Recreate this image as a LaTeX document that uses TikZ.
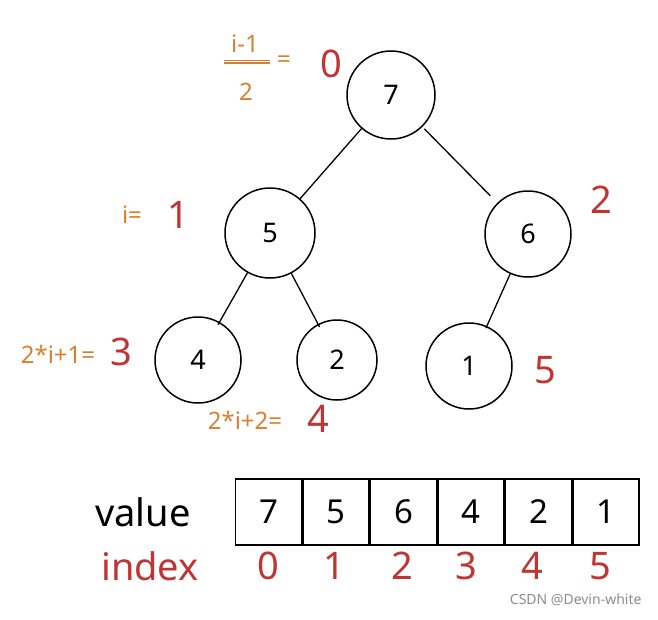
\documentclass[tikz,border=0pt]{standalone}
\usepackage{fontspec}
\setmainfont{Noto Sans}
\definecolor{sketchorange}{RGB}{217,128,48}
\definecolor{sketchred}{RGB}{192,52,52}
\begin{document}
\begin{tikzpicture}[x=1pt,y=-1pt,
  heapnode/.style={circle,draw,line width=1.5pt,inner sep=0pt,font=\fontsize{27}{29}\selectfont},
  cell/.style={draw,line width=1.5pt,minimum width=66pt,minimum height=66pt,inner sep=0pt,font=\fontsize{33}{35}\selectfont},
  edge/.style={line width=1.3pt,line cap=round},
  formula/.style={text=sketchorange,font=\fontsize{24}{26}\selectfont,inner sep=0pt},
  idx/.style={text=sketchred,font=\fontsize{38}{40}\selectfont,inner sep=0pt},
  rowlabel/.style={font=\fontsize{38}{40}\selectfont,inner sep=0pt}]
\useasboundingbox (0,0) rectangle (658,619);

% heap tree
\node[heapnode,minimum size=88pt] (n7) at (391,95) {7};
\node[heapnode,minimum size=90pt] (n5) at (270,233) {5};
\node[heapnode,minimum size=86pt] (n6) at (528,234) {6};
\node[heapnode,minimum size=86pt] (n4) at (198,360) {4};
\node[heapnode,minimum size=80pt] (n2) at (337,360) {2};
\node[heapnode,minimum size=86pt] (n1) at (469,366) {1};

\draw[edge] (n7) -- (n5);
\draw[edge,shorten <=3pt,shorten >=10pt] (n7) -- (n6);
\draw[edge,shorten >=-3pt] (n5) -- (n4);
\draw[edge,shorten >=-3pt] (n5) -- (n2);
\draw[edge,shorten >=-2pt] (n6) -- (n1);

% index formulas next to the tree
\node[formula] (fnum) at (245,44) {i-1};
\coordinate (barL) at (224,63);
\coordinate (barR) at (270,63);
\draw[sketchorange,line width=1.2pt] (barL) -- (barR);
\draw[sketchorange,line width=1pt] ([yshift=2.5pt]barL) -- ([yshift=2.5pt]barR);
\node[formula] (fden) at (246,92) {2};
\node[formula] (feq) at (284,62) {=};
\node[idx] (i0) at (331,64) {0};

\node[formula] (fi) at (132,215) {i=};
\node[idx] (i1) at (178,215) {1};
\node[idx] (i2) at (601,200) {2};

\node[formula] (fl) at (58,354) {2*i+1=};
\node[idx] (i3) at (121,352) {3};
\node[formula] (fr) at (245,420) {2*i+2=};
\node[idx] (i4) at (318,419) {4};
\node[idx] (i5) at (545,370) {5};

% array view
\node[rowlabel] (value) at (143,512) {value};
\node[cell] (c0) at (268.5,512) {7};
\node[cell] (c1) at (336,512) {5};
\node[cell] (c2) at (403.5,512) {6};
\node[cell] (c3) at (471,512) {4};
\node[cell] (c4) at (538.5,512) {2};
\node[cell] (c5) at (606,512) {1};

\node[rowlabel,text=sketchred] (index) at (150,566) {index};
\node[idx] (k0) at (268,566) {0};
\node[idx] (k1) at (334,566) {1};
\node[idx] (k2) at (402,566) {2};
\node[idx] (k3) at (466,566) {3};
\node[idx] (k4) at (532,566) {4};
\node[idx] (k5) at (600,566) {5};

\node[text=black!45,font=\fontsize{14}{16}\selectfont,anchor=east] (mark) at (645,600) {CSDN @Devin-white};
\end{tikzpicture}
\end{document}
